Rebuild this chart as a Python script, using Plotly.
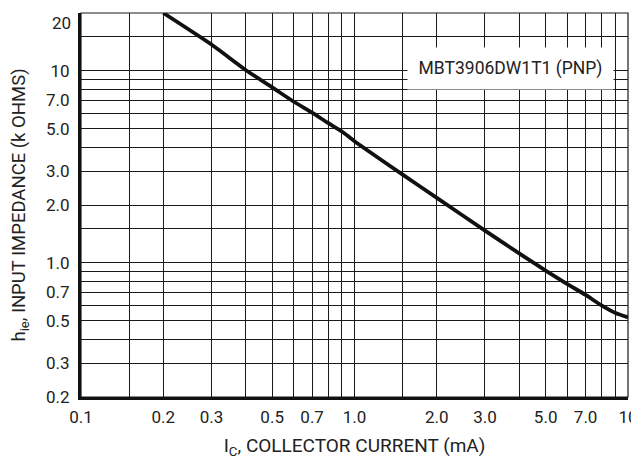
import math
import plotly.graph_objects as go

# ---- data ----
current_ma = [0.2, 0.3, 0.4, 0.5, 0.6, 0.7, 0.8, 0.9, 1.0, 1.5, 2.0, 3.0,
              4.0, 5.0, 6.0, 7.0, 8.0, 9.0, 10.0]
impedance_kohm = [20.0, 13.7, 10.1, 8.2, 6.9, 6.05, 5.35, 4.83, 4.3, 2.88, 2.18, 1.47,
                  1.12, 0.91, 0.775, 0.68, 0.60, 0.548, 0.52]

x_grid = [0.1, 0.15, 0.2, 0.3, 0.4, 0.5, 0.6, 0.7, 0.8, 0.9, 1.0, 1.5,
          2.0, 3.0, 4.0, 5.0, 6.0, 7.0, 8.0, 9.0, 10.0]
x_labels = ["0.1", "", "0.2", "0.3", "", "0.5", "", "0.7", "", "", "1.0", "",
            "2.0", "3.0", "", "5.0", "", "7.0", "", "", "10"]

y_grid = [0.2, 0.3, 0.4, 0.5, 0.6, 0.7, 0.8, 0.9, 1.0, 1.5,
          2.0, 3.0, 4.0, 5.0, 6.0, 7.0, 8.0, 9.0, 10.0, 15.0, 20.0]
y_labels = ["0.2", "0.3", "", "0.5", "", "0.7", "", "", "1.0", "",
            "2.0", "3.0", "", "5.0", "", "7.0", "", "", "10", "", "20"]

device_label = "MBT3906DW1T1 (PNP)"

FONT = "Roboto, Liberation Sans, sans-serif"
TXT = "#222222"
GRID = "#1a1a1a"

# top label sits just below the top edge (as in the reference), drawn as an annotation
y_tick_text = list(y_labels[:-1]) + [""]

fig = go.Figure()
fig.add_trace(go.Scatter(
    x=current_ma, y=impedance_kohm, mode="lines",
    line=dict(color="#111111", width=3.8, shape="spline", smoothing=0.5),
    showlegend=False, hoverinfo="skip",
))

# the page body adds an 8 px margin, so the figure is 8 px smaller each way
fig.update_layout(
    width=631, height=451,
    margin=dict(l=73, r=11, t=5, b=62),
    paper_bgcolor="white", plot_bgcolor="white",
    font=dict(family=FONT, size=17, color=TXT),
    xaxis=dict(
        type="log", range=[-1, 1], automargin=False,
        tickmode="array", tickvals=x_grid, ticktext=x_labels,
        ticklabeloverflow="allow",
        showgrid=True, gridcolor=GRID, gridwidth=1.2,
        ticks="outside", ticklen=3, tickcolor="rgba(0,0,0,0)",
        showline=True, linecolor="#111111", linewidth=2.5,
        zeroline=False,
        tickfont=dict(family=FONT, size=17, color=TXT),
        title=dict(text="I<sub>C</sub>, COLLECTOR CURRENT (mA)",
                   font=dict(family=FONT, size=19, color=TXT), standoff=15),
    ),
    yaxis=dict(
        type="log", range=[0.30103 - 1, 1.30103], automargin=False,
        tickmode="array", tickvals=y_grid, ticktext=y_tick_text,
        ticklabeloverflow="allow",
        showgrid=True, gridcolor=GRID, gridwidth=1.2,
        ticks="outside", ticklen=5, tickcolor="rgba(0,0,0,0)",
        showline=True, linecolor="#111111", linewidth=3,
        zeroline=False,
        tickfont=dict(family=FONT, size=17, color=TXT),
        title=dict(text="h<sub>ie</sub>, INPUT IMPEDANCE (k OHMS)",
                   font=dict(family=FONT, size=18.5, color=TXT), standoff=17),
    ),
    shapes=[dict(type="rect", xref="paper", yref="paper", x0=0, x1=1, y0=0, y1=1,
                 line=dict(color=GRID, width=1.2), layer="below")],
    annotations=[
        dict(text=device_label, xref="paper", yref="paper", x=0.785, y=0.856,
             xanchor="center", yanchor="middle",
             showarrow=False, bgcolor="white", borderpad=9, width=187, height=23,
             font=dict(family=FONT, size=17.5, color=TXT)),
        dict(text=y_labels[-1], xref="paper", yref="y",
             x=0, y=math.log10(y_grid[-1]), xanchor="right", yanchor="top",
             xshift=-8, yshift=2, showarrow=False,
             font=dict(family=FONT, size=17, color=TXT)),
    ],
)

fig.write_html("out.html")
